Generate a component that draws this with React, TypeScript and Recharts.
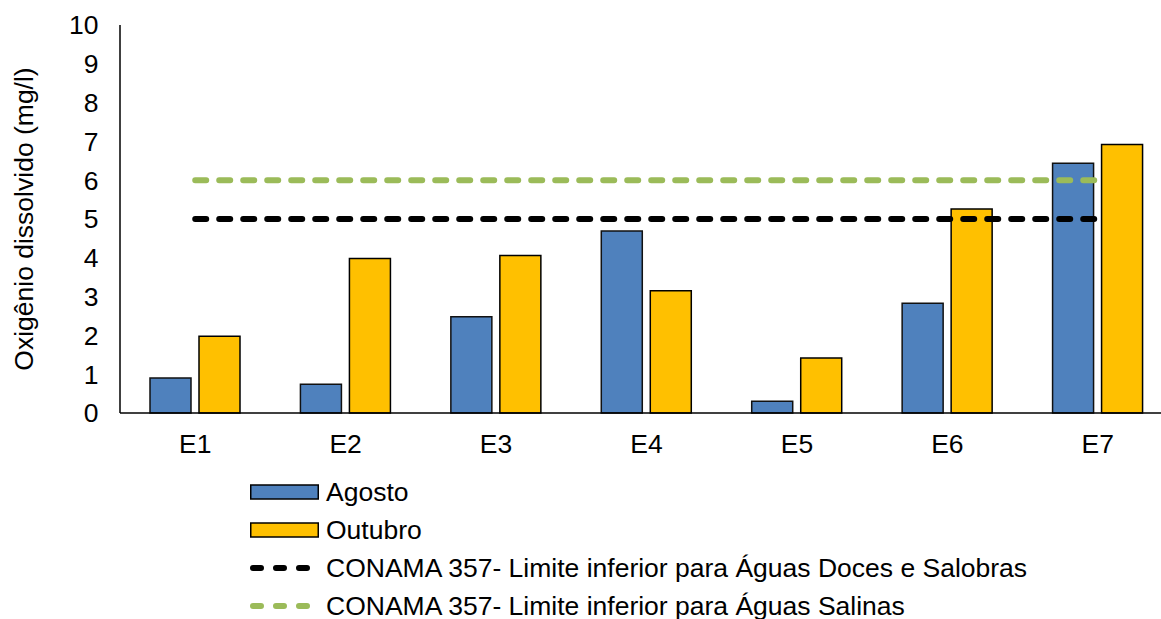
import { ComposedChart, Bar, Line, XAxis, YAxis } from "recharts";

const stations = ["E1", "E2", "E3", "E4", "E5", "E6", "E7"];
const agosto = [0.9, 0.74, 2.48, 4.69, 0.3, 2.83, 6.44];
const outubro = [1.98, 3.98, 4.06, 3.15, 1.42, 5.26, 6.92];
const limiteDoces = [5, 5, 5, 5, 5, 5, 5];
const limiteSalinas = [6, 6, 6, 6, 6, 6, 6];
const yTicks = [0, 1, 2, 3, 4, 5, 6, 7, 8, 9, 10];

const NAMES = {
  agosto: "Agosto",
  outubro: "Outubro",
  doces: "CONAMA 357- Limite inferior para Águas Doces e Salobras",
  salinas: "CONAMA 357- Limite inferior para Águas Salinas",
};

const COLORS = {
  agosto: "#4F81BD",
  outubro: "#FFC000",
  doces: "#000000",
  salinas: "#9BBB59",
};

const data = stations.map((name, i) => ({
  name,
  agosto: agosto[i],
  outubro: outubro[i],
  doces: limiteDoces[i],
  salinas: limiteSalinas[i],
}));

const FONT = "'Liberation Sans', Arial, sans-serif";
const FS = 26.5;

const LegendBox = ({ color }: { color: string }) => (
  <svg width={69} height={16}>
    <rect x={0.75} y={1} width={67.5} height={14} fill={color} stroke="#000" strokeWidth={1.5} />
  </svg>
);

const LegendDash = ({ color }: { color: string }) => (
  <svg width={69} height={16}>
    <line
      x1={3}
      y1={8}
      x2={66}
      y2={8}
      stroke={color}
      strokeWidth={6}
      strokeLinecap="round"
      strokeDasharray="8 15"
    />
  </svg>
);

const legendItems = [
  { key: "agosto", kind: "box" },
  { key: "outubro", kind: "box" },
  { key: "doces", kind: "dash" },
  { key: "salinas", kind: "dash" },
] as const;

export default function App() {
  return (
    <div
      style={{
        position: "absolute",
        left: 0,
        top: 0,
        width: 1161,
        height: 619,
        overflow: "hidden",
        background: "#fff",
        fontFamily: FONT,
      }}
    >
      <ComposedChart
        width={1175}
        height={619}
        data={data}
        margin={{ top: 25, right: 2, left: 0, bottom: 0 }}
        barCategoryGap={30}
        barGap={8}
      >
        <XAxis
          dataKey="name"
          height={206}
          tickSize={0}
          tickMargin={21}
          axisLine={{ stroke: "#000", strokeWidth: 1.5 }}
          tick={{ fill: "#000", fontSize: FS, fontFamily: FONT }}
        />
        <YAxis
          width={120}
          domain={[0, 10]}
          ticks={yTicks}
          interval={0}
          tickSize={0}
          tickMargin={21.5}
          axisLine={{ stroke: "#000", strokeWidth: 1.5 }}
          tick={{ fill: "#000", fontSize: FS, fontFamily: FONT }}
          label={{
            value: "Oxigênio dissolvido (mg/l)",
            angle: -90,
            position: "center",
            dx: -36,
            style: { fill: "#000", fontSize: FS, fontFamily: FONT },
          }}
        />
        <Bar
          dataKey="agosto"
          name={NAMES.agosto}
          fill={COLORS.agosto}
          stroke="#111"
          strokeWidth={1.5}
          isAnimationActive={false}
        />
        <Bar
          dataKey="outubro"
          name={NAMES.outubro}
          fill={COLORS.outubro}
          stroke="#000"
          strokeWidth={1.5}
          isAnimationActive={false}
        />
        <Line
          dataKey="doces"
          name={NAMES.doces}
          stroke={COLORS.doces}
          strokeWidth={6}
          strokeLinecap="round"
          strokeDasharray="11 13"
          dot={false}
          activeDot={false}
          isAnimationActive={false}
        />
        <Line
          dataKey="salinas"
          name={NAMES.salinas}
          stroke={COLORS.salinas}
          strokeWidth={6}
          strokeLinecap="round"
          strokeDasharray="11 13"
          dot={false}
          activeDot={false}
          isAnimationActive={false}
        />
      </ComposedChart>

      <div style={{ position: "absolute", left: 250, top: 473 }}>
        {legendItems.map((item) => (
          <div
            key={item.key}
            style={{ display: "flex", alignItems: "center", height: 38, whiteSpace: "nowrap" }}
          >
            {item.kind === "box" ? (
              <LegendBox color={COLORS[item.key]} />
            ) : (
              <LegendDash color={COLORS[item.key]} />
            )}
            <span style={{ marginLeft: 7, fontSize: FS, color: "#000", lineHeight: "38px" }}>
              {NAMES[item.key]}
            </span>
          </div>
        ))}
      </div>
    </div>
  );
}
